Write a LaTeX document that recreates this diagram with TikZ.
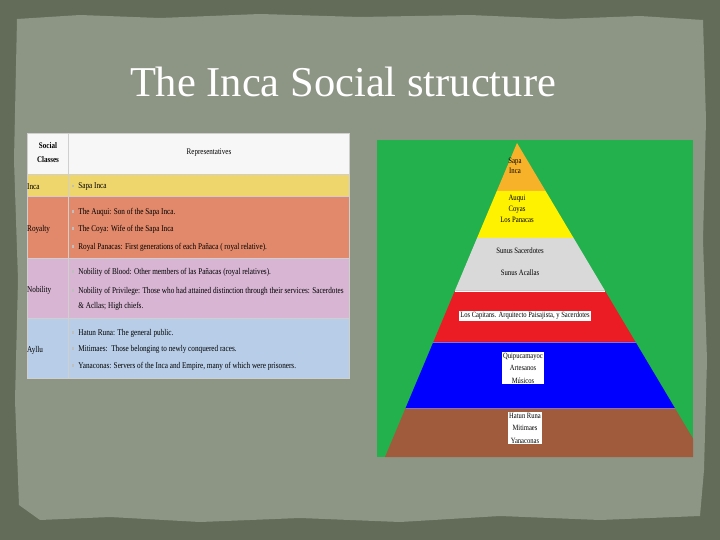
\documentclass[tikz,border=0pt]{standalone}
\usepackage{fontspec}
\setmainfont{Liberation Serif}
\newfontfamily\narrowser[FakeStretch=0.82]{Liberation Serif}
\usetikzlibrary{positioning,calc}

\definecolor{slateout}{HTML}{636C59}
\definecolor{paper}{HTML}{8D9585}
\definecolor{headwhite}{HTML}{F7F7F7}
\definecolor{incayel}{HTML}{EFD66C}
\definecolor{royalsal}{HTML}{E1896A}
\definecolor{noblilac}{HTML}{D7B5D3}
\definecolor{ayllublue}{HTML}{B8CEE8}
\definecolor{gridgray}{HTML}{CFCFCF}
\definecolor{pyrgreen}{HTML}{22B14C}
\definecolor{sapaor}{HTML}{F8B22A}
\definecolor{auqyel}{HTML}{FFF200}
\definecolor{suntgray}{HTML}{D9D9D9}
\definecolor{capred}{HTML}{EC1C24}
\definecolor{quipblue}{HTML}{0000FE}
\definecolor{hatbrown}{HTML}{A05B3D}
\definecolor{edgepurp}{HTML}{8A6FC8}

\newcommand{\sqbul}{{\color{black!25}\rule[1.5pt]{2.2pt}{2.2pt}}\hspace{4pt}}

\begin{document}
\begin{tikzpicture}[
    x=1pt, y=-1pt,
    tbl/.style={font=\narrowser\fontsize{8.8}{9}\selectfont, inner sep=0pt, anchor=west},
    cls/.style={font=\narrowser\fontsize{8.8}{9}\selectfont, inner sep=0pt, anchor=west},
    head/.style={font=\narrowser\bfseries\fontsize{8.6}{14}\selectfont, align=center, inner sep=0pt},
    plbl/.style={font=\narrowser\fontsize{8.2}{11}\selectfont, align=center, inner sep=0pt},
    wbox/.style={fill=white, font=\narrowser\fontsize{8}{12.5}\selectfont, align=center, inner sep=1.2pt},
  ]

  \useasboundingbox (0,0) rectangle (720,540);

  % ---------- slide background: dark frame and torn paper ----------
  \fill[slateout] (0,0) rectangle (720,540);
  \fill[paper] (17,19) -- (80,15) -- (160,18) -- (260,14) -- (360,17) -- (470,15)
    -- (560,19) -- (640,16) -- (703,20) -- (706,120) -- (703,240) -- (707,360)
    -- (704,470) -- (700,516) -- (600,520) -- (500,516) -- (400,522) -- (300,518)
    -- (200,522) -- (110,517) -- (40,520) -- (19,505) -- (15,400) -- (18,280)
    -- (14,160) -- cycle;

  % ---------- title ----------
  \node[font=\fontsize{42.5}{44}\selectfont, text=white] (title) at (343,82)
    {The Inca Social structure};

  % ---------- table of classes ----------
  \fill[headwhite] (27,133) rectangle (349,174);
  \fill[incayel]   (27,174) rectangle (349,196);
  \fill[royalsal]  (27,196) rectangle (349,258);
  \fill[noblilac]  (27,258) rectangle (349,318);
  \fill[ayllublue] (27,318) rectangle (349,378);
  \foreach \yy in {174,196,258,318}
    \draw[gridgray, line width=0.5pt] (27,\yy) -- (349,\yy);
  \draw[gridgray, line width=0.5pt] (68,133) -- (68,378);
  \draw[gridgray, line width=0.5pt] (27,133) rectangle (349,378);

  \node[head] (hcls) at (48,153) {Social\\Classes};
  \node[font=\narrowser\fontsize{8.6}{9}\selectfont, inner sep=0pt] (hrep) at (209,153) {Representatives};

  \node[cls] (cinca) at (27,187) {Inca};
  \node[cls] (croy)  at (27,229) {Royalty};
  \node[cls] (cnob)  at (27,290) {Nobility};
  \node[cls] (cayl)  at (27,350) {Ayllu};

  \foreach \yy/\txt in {
      187/{Sapa Inca},
      212/{The Auqui: Son of the Sapa Inca.},
      229/{The Coya: Wife of the Sapa Inca},
      247/{Royal Panacas: First generations of each Pañaca ( royal relative).},
      272/{Nobility of Blood: Other members of las Pañacas (royal relatives).},
      291/{Nobility of Privilege: Those who had attained distinction through their services: Sacerdotes},
      333/{Hatun Runa: The general public.},
      349/{Mitimaes:\ \ Those belonging to newly conquered races.},
      366/{Yanaconas: Servers of the Inca and Empire, many of which were prisoners.}}
    \node[tbl] (rep\yy) at (72,\yy) {\sqbul\txt};
  \node[tbl] (rep306) at (78.2,306) {\& Acllas; High chiefs.};

  % ---------- pyramid on green panel ----------
  \coordinate (apex)  at (517,143);
  \coordinate (baseL) at (385,457);
  \coordinate (baseR) at (704,457);
  \begin{scope}
    \clip (377,140) rectangle (693,457);
    \fill[pyrgreen] (377,140) rectangle (693,457);
    \foreach \ya/\yb/\col in {143/191/sapaor, 191/238/auqyel, 238/291/suntgray,
                              291/342/capred, 342/408/quipblue, 408/457/hatbrown}
      \fill[\col] ($(apex)!{(\ya-143)/314}!(baseL)$) -- ($(apex)!{(\yb-143)/314}!(baseL)$)
        -- ($(apex)!{(\yb-143)/314}!(baseR)$) -- ($(apex)!{(\ya-143)/314}!(baseR)$) -- cycle;
    % band edges
    \draw[white, line width=0.7pt] ($(apex)!{148/314}!(baseL)$) -- ($(apex)!{148/314}!(baseR)$);
    \foreach \yb in {342,408}
      \draw[edgepurp, line width=0.8pt] ($(apex)!{(\yb-143)/314}!(baseL)$) -- ($(apex)!{(\yb-143)/314}!(baseR)$);
  \end{scope}

  % ---------- pyramid labels ----------
  \node[plbl, font=\narrowser\fontsize{8.2}{9.5}\selectfont] (sapa) at (515,166) {Sapa\\Inca};
  \node[plbl] (auqui) at (517,209) {Auqui\\Coyas\\Los Panacas};
  \node[plbl] (suntsac) at (520,251) {Sunus Sacerdotes};
  \node[plbl] (suntacl) at (520,273) {Sunus Acallas};
  \node[wbox] (capit) at (525,316) {Los Capitans. Arquitecto Paisajista, y Sacerdotes};
  \node[wbox] (quipu) at (523,368) {Quipucamayoc\\Artesanos\\Músicos};
  \node[wbox] (hatun) at (525,428) {Hatun Runa\\Mitimaes\\Yanaconas};

\end{tikzpicture}
\end{document}
